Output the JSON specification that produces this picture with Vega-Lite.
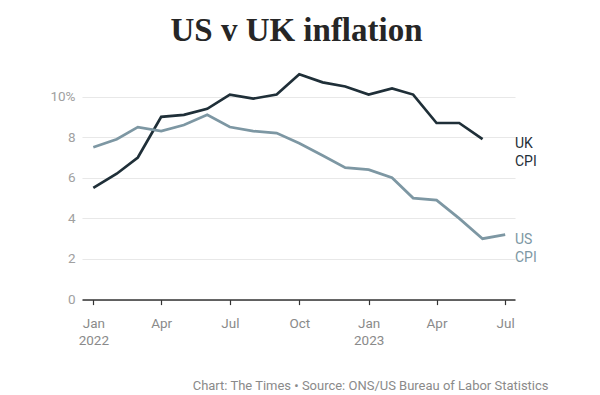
{
  "$schema": "https://vega.github.io/schema/vega-lite/v6.json",
  "autosize": "none",
  "width": 433,
  "height": 243.6,
  "padding": {"left": 82, "top": 56, "right": 85, "bottom": 95},
  "background": "white",
  "title": {
    "text": "US v UK inflation",
    "font": "Liberation Serif",
    "fontSize": 33,
    "fontWeight": "bold",
    "color": "#262626",
    "anchor": "middle",
    "frame": "group",
    "baseline": "bottom",
    "offset": -25,
    "dx": -2
  },
  "config": {
    "view": {"stroke": null},
    "font": "Roboto"
  },
  "datasets": {
    "cpi": [
      {"series": "UK", "date": "2022-01-01", "value": 5.5},
      {"series": "UK", "date": "2022-02-01", "value": 6.2},
      {"series": "UK", "date": "2022-03-01", "value": 7.0},
      {"series": "UK", "date": "2022-04-01", "value": 9.0},
      {"series": "UK", "date": "2022-05-01", "value": 9.1},
      {"series": "UK", "date": "2022-06-01", "value": 9.4},
      {"series": "UK", "date": "2022-07-01", "value": 10.1},
      {"series": "UK", "date": "2022-08-01", "value": 9.9},
      {"series": "UK", "date": "2022-09-01", "value": 10.1},
      {"series": "UK", "date": "2022-10-01", "value": 11.1},
      {"series": "UK", "date": "2022-11-01", "value": 10.7},
      {"series": "UK", "date": "2022-12-01", "value": 10.5},
      {"series": "UK", "date": "2023-01-01", "value": 10.1},
      {"series": "UK", "date": "2023-02-01", "value": 10.4},
      {"series": "UK", "date": "2023-03-01", "value": 10.1},
      {"series": "UK", "date": "2023-04-01", "value": 8.7},
      {"series": "UK", "date": "2023-05-01", "value": 8.7},
      {"series": "UK", "date": "2023-06-01", "value": 7.9},
      {"series": "US", "date": "2022-01-01", "value": 7.5},
      {"series": "US", "date": "2022-02-01", "value": 7.9},
      {"series": "US", "date": "2022-03-01", "value": 8.5},
      {"series": "US", "date": "2022-04-01", "value": 8.3},
      {"series": "US", "date": "2022-05-01", "value": 8.6},
      {"series": "US", "date": "2022-06-01", "value": 9.1},
      {"series": "US", "date": "2022-07-01", "value": 8.5},
      {"series": "US", "date": "2022-08-01", "value": 8.3},
      {"series": "US", "date": "2022-09-01", "value": 8.2},
      {"series": "US", "date": "2022-10-01", "value": 7.7},
      {"series": "US", "date": "2022-11-01", "value": 7.1},
      {"series": "US", "date": "2022-12-01", "value": 6.5},
      {"series": "US", "date": "2023-01-01", "value": 6.4},
      {"series": "US", "date": "2023-02-01", "value": 6.0},
      {"series": "US", "date": "2023-03-01", "value": 5.0},
      {"series": "US", "date": "2023-04-01", "value": 4.9},
      {"series": "US", "date": "2023-05-01", "value": 4.0},
      {"series": "US", "date": "2023-06-01", "value": 3.0},
      {"series": "US", "date": "2023-07-01", "value": 3.2}
    ],
    "labels": [
      {"series": "UK", "date": "2023-07-14", "value": 7.9, "label": "UK\nCPI"},
      {"series": "US", "date": "2023-07-14", "value": 3.2, "label": "US\nCPI"}
    ]
  },
  "layer": [
    {
      "data": {"name": "cpi"},
      "mark": {"type": "line", "strokeWidth": 2.7, "clip": false},
      "encoding": {
        "x": {
          "field": "date",
          "type": "temporal",
          "scale": {
            "type": "utc",
            "domain": [
              {"year": 2021, "month": 12, "date": 17, "utc": true},
              {"year": 2023, "month": 7, "date": 14, "utc": true}
            ]
          },
          "axis": {
            "values": [
              {"year": 2022, "month": 1, "date": 1, "utc": true},
              {"year": 2022, "month": 4, "date": 1, "utc": true},
              {"year": 2022, "month": 7, "date": 1, "utc": true},
              {"year": 2022, "month": 10, "date": 1, "utc": true},
              {"year": 2023, "month": 1, "date": 1, "utc": true},
              {"year": 2023, "month": 4, "date": 1, "utc": true},
              {"year": 2023, "month": 7, "date": 1, "utc": true}
            ],
            "labelExpr": "utcFormat(datum.value, '%m') == '01' ? [utcFormat(datum.value, '%b'), utcFormat(datum.value, '%Y')] : utcFormat(datum.value, '%b')",
            "labelFont": "Roboto",
            "labelFontSize": 13.5,
            "labelColor": "#8a8a8a",
            "labelPadding": 12,
            "labelLineHeight": 17,
            "labelFlush": false,
            "domainColor": "#333333",
            "domainWidth": 1.5,
            "tickColor": "#333333",
            "tickSize": 5,
            "tickWidth": 1.2,
            "grid": false,
            "title": "Chart: The Times \u2022 Source: ONS/US Bureau of Labor Statistics",
            "titleFont": "Roboto",
            "titleFontSize": 13,
            "titleFontWeight": "normal",
            "titleColor": "#8a8a8a",
            "titleAlign": "right",
            "titleAnchor": "end",
            "titleBaseline": "alphabetic",
            "titleX": 466,
            "titleY": 90
          }
        },
        "y": {
          "field": "value",
          "type": "quantitative",
          "scale": {"domain": [0, 12], "nice": false},
          "axis": {
            "values": [0, 2, 4, 6, 8, 10],
            "labelExpr": "datum.value == 10 ? '10%' : datum.label",
            "labelFont": "Roboto",
            "labelFontSize": 13.5,
            "labelColor": "#a0a0a0",
            "labelPadding": 7,
            "domain": false,
            "ticks": false,
            "gridColor": "#e8e8e8",
            "gridWidth": 1,
            "title": null
          }
        },
        "color": {
          "field": "series",
          "type": "nominal",
          "scale": {"domain": ["UK", "US"], "range": ["#1f2f38", "#7d97a3"]},
          "legend": null
        }
      }
    },
    {
      "data": {"name": "labels"},
      "mark": {"type": "text", "align": "left", "baseline": "top", "dy": -2, "lineBreak": "\n", "lineHeight": 18, "fontSize": 14, "font": "Roboto"},
      "encoding": {
        "x": {"field": "date", "type": "temporal"},
        "y": {"field": "value", "type": "quantitative"},
        "text": {"field": "label"},
        "color": {"field": "series", "type": "nominal", "legend": null}
      }
    }
  ]
}
